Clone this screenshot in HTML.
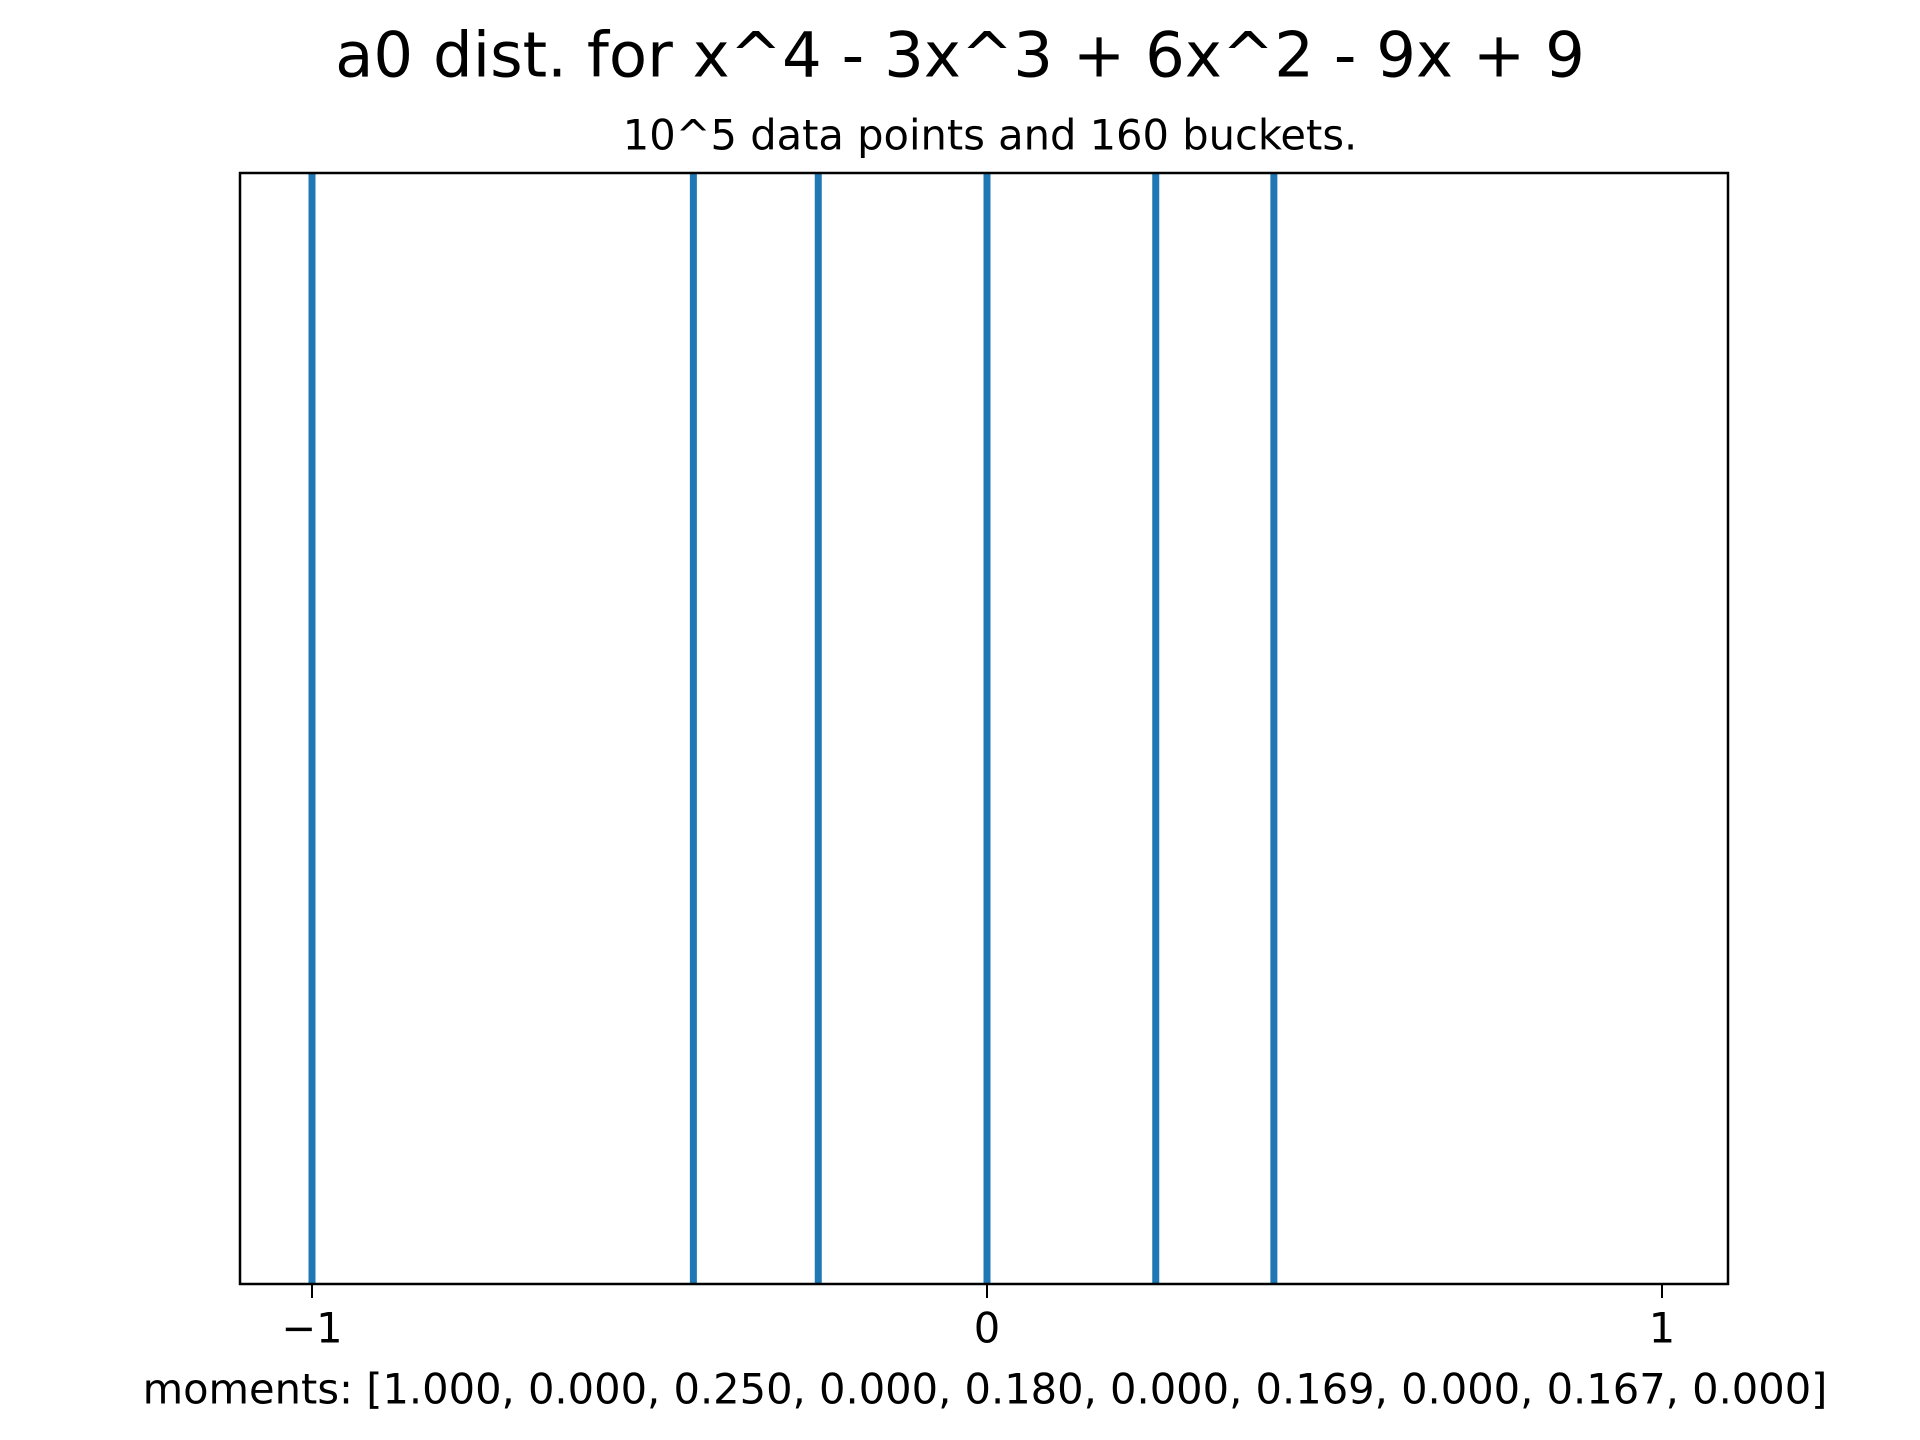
<!DOCTYPE html>
<html><head><meta charset="utf-8"><style>
html,body{margin:0;padding:0;background:#fff;}
svg{display:block;font-family:"DejaVu Sans","Liberation Sans",sans-serif;}
</style></head><body>
<svg id="chart" width="1920" height="1440" viewBox="0 0 1920 1440">
<text x="960" y="55" font-size="62.5" text-anchor="middle" dominant-baseline="central">a0 dist. for x^4 - 3x^3 + 6x^2 - 9x + 9</text>
<text x="990" y="135" font-size="41.6" text-anchor="middle" dominant-baseline="central">10^5 data points and 160 buckets.</text>
<g id="marks"></g>
<rect x="240" y="173" width="1488" height="1111" fill="none" stroke="#000" stroke-width="2.5"/>
<g id="ticks"></g>
<text x="985" y="1389" font-size="41.6" text-anchor="middle" dominant-baseline="central">moments: [1.000, 0.000, 0.250, 0.000, 0.180, 0.000, 0.169, 0.000, 0.167, 0.000]</text>
</svg>
<script>
const peakValues = [-1, -0.435, -0.25, 0, 0.25, 0.425];
const tickValues = [-1, 0, 1];
const tickLabels = ["\u22121", "0", "1"];
const NS = "http://www.w3.org/2000/svg";
function xs(v){ return 987 + v * 675; }
const marks = document.getElementById('marks');
peakValues.forEach(function(v, i){
  const l = document.createElementNS(NS, 'line');
  l.setAttribute('x1', xs(v)); l.setAttribute('x2', xs(v));
  l.setAttribute('y1', 173); l.setAttribute('y2', 1284);
  l.setAttribute('stroke', '#1f77b4'); l.setAttribute('stroke-width', 7);
  
  
  marks.appendChild(l);
});
const ticks = document.getElementById('ticks');
tickValues.forEach(function(v, i){
  const t = document.createElementNS(NS, 'line');
  t.setAttribute('x1', xs(v)); t.setAttribute('x2', xs(v));
  t.setAttribute('y1', 1284); t.setAttribute('y2', 1298);
  t.setAttribute('stroke', '#000'); t.setAttribute('stroke-width', 2);
  
  
  ticks.appendChild(t);
  const tx = document.createElementNS(NS, 'text');
  tx.setAttribute('x', xs(v)); tx.setAttribute('y', 1328);
  tx.setAttribute('font-size', 41.6); tx.setAttribute('text-anchor', 'middle');
  tx.setAttribute('dominant-baseline', 'central');
  tx.textContent = tickLabels[i];
  
  
  ticks.appendChild(tx);
});
</script>
</body></html>
